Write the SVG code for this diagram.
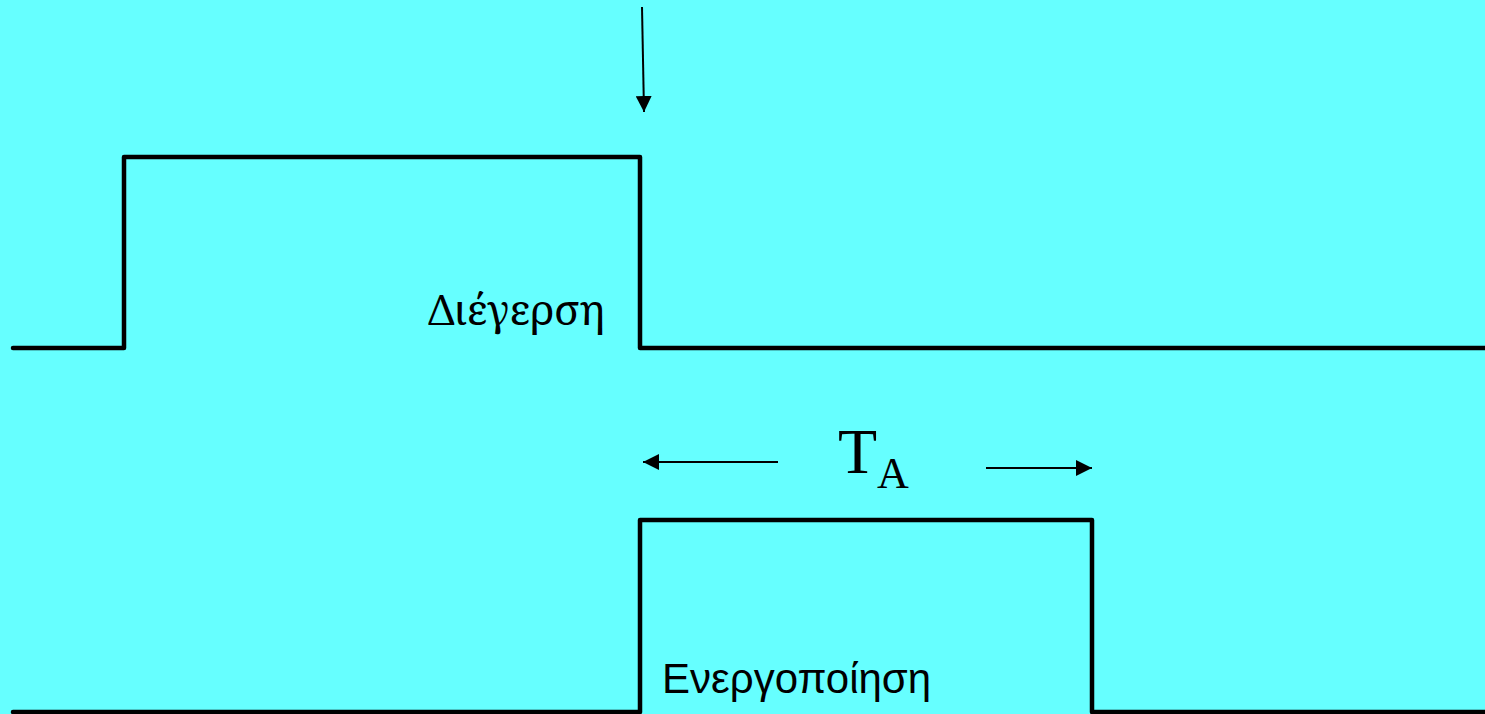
<svg xmlns="http://www.w3.org/2000/svg" width="1485" height="714" viewBox="0 0 1485 714">
<defs>
<style>
.wave{fill:none;stroke:#000;stroke-width:4.5;stroke-linejoin:round;stroke-linecap:round}
.arr{stroke:#000;stroke-width:2}
.serif{font-family:"Liberation Serif","DejaVu Serif",serif;fill:#000}
.gserif{font-family:"Noto Serif","DejaVu Serif","Liberation Serif",serif;fill:#000}
.sans{font-family:"Liberation Sans","DejaVu Sans",sans-serif;fill:#000}
</style>
<marker id="ahs" viewBox="0 0 10 10" refX="10" refY="5" markerWidth="16" markerHeight="16" markerUnits="userSpaceOnUse" orient="auto">
<path d="M0,0 L10,5 L0,10 Z" fill="#000"/>
</marker>
</defs>
<rect width="1485" height="714" fill="#66FFFF"/>
<g id="stimulus">
<polyline class="wave" points="13,348 124,348 124,157 640,157 640,348 1485,348"/>
<text class="gserif" x="428" y="325" font-size="42">Διέγερση</text>
</g>
<g id="activation">
<polyline class="wave" points="13,712 640,712 640,520 1092,520 1092,712 1485,712"/>
<text class="sans" x="662" y="693" font-size="42">Ενεργοποίηση</text>
</g>
<g id="ta-label">
<text class="serif" x="838" y="473" font-size="64">T<tspan font-size="44" y="488">A</tspan></text>
</g>
<g id="connectors">
<line class="arr" x1="642" y1="7" x2="644" y2="112" marker-end="url(#ahs)"/>
<line class="arr" x1="778" y1="462" x2="643" y2="462" marker-end="url(#ahs)"/>
<line class="arr" x1="986" y1="468" x2="1092" y2="468" marker-end="url(#ahs)"/>
</g>
</svg>
